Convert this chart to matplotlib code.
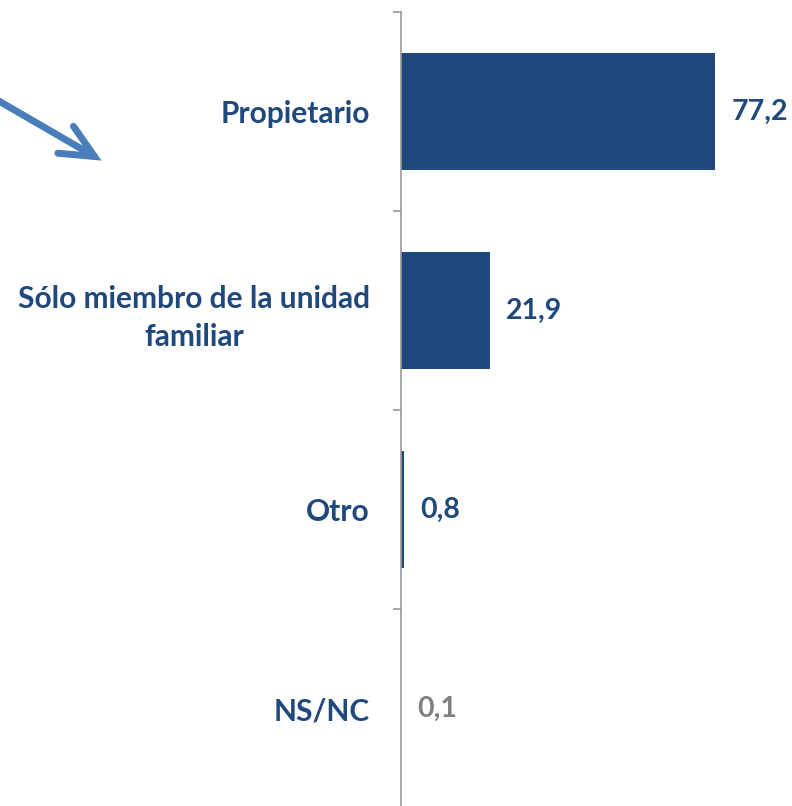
import numpy as np
from matplotlib import pyplot as plt

plt.rcParams['font.family'] = ['Lato', 'DejaVu Sans']

categorias = ['Propietario', 'Sólo miembro de la unidad\nfamiliar', 'Otro', 'NS/NC']
valores = [77.2, 21.9, 0.8, 0.1]
etiquetas = ['77,2', '21,9', '0,8', '0,1']
color_valor = ['#1F497D', '#1F497D', '#1F497D', '#808080']

azul = '#1F497D'
W, H = 792, 806
fig = plt.figure(figsize=(W / 100, H / 100), dpi=100)
ax = fig.add_axes([401 / W, (H - 808) / H, (W - 401) / W, 796 / H])

y = np.arange(len(categorias))
ax.barh(y, valores, height=0.59, color=azul)
ax.set_xlim(0, 96)
ax.set_ylim(len(categorias) - 0.5, -0.5)

for yi, v, t, c in zip(y, valores, etiquetas, color_valor):
    ax.annotate(t, (v, yi), xytext=(16, 0), textcoords='offset pixels',
                ha='left', va='center', fontsize=20.5, fontweight='bold', color=c)

# ticks sit between the categories, labels centred on them
ax.set_yticks(np.arange(-0.5, len(categorias)), minor=False)
ax.set_yticklabels([])
ax.set_yticks(y, minor=True)
ax.set_yticklabels(categorias, minor=True, fontsize=21.5, fontweight='bold',
                   color=azul, ha='right', multialignment='center',
                   linespacing=1.45)
ax.tick_params(axis='y', which='major', length=5.8, width=1.2, color='#999999', direction='out')
ax.tick_params(axis='y', which='minor', length=0, pad=31 * 72 / 100)
ax.set_xticks([])

for s in ['top', 'right', 'bottom']:
    ax.spines[s].set_visible(False)
ax.spines['left'].set_color('#999999')
ax.spines['left'].set_linewidth(1.2)

# arrow in the top-left corner
ax.annotate('', xy=(104 / W, 1 - 162 / H), xytext=(-8 / W, 1 - 97 / H),
            xycoords='figure fraction', textcoords='figure fraction',
            arrowprops=dict(arrowstyle='->,head_length=1.2,head_width=0.56',
                            mutation_scale=20, color='#4A7EBB', lw=5,
                            capstyle='round', joinstyle='miter'),
            annotation_clip=False)

plt.savefig('out.png', dpi=100, facecolor='w')
